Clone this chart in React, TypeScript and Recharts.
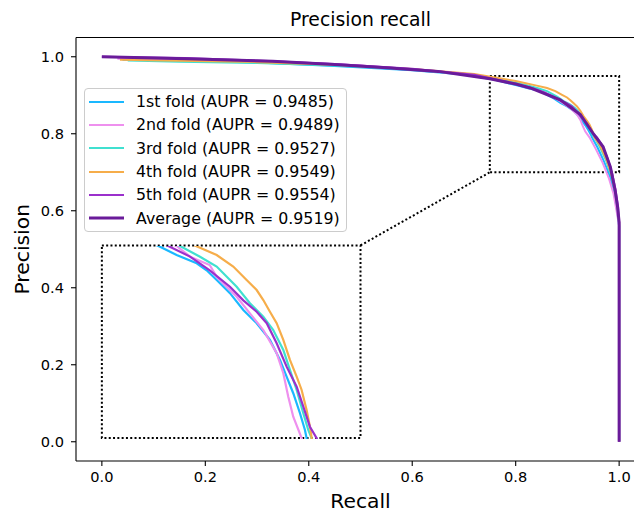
import React from "react";
import {
  LineChart,
  Line,
  XAxis,
  YAxis,
  Legend,
  ReferenceArea,
  ReferenceLine,
} from "recharts";

const FONT = "'DejaVu Sans', sans-serif";

// recall / precision, one pair of arrays per fold
const fold1Recall = [0.04, 0.15, 0.3, 0.45, 0.6, 0.7, 0.76, 0.806, 0.822, 0.8414, 0.851, 0.8607, 0.8735, 0.8864, 0.8993, 0.9121, 0.9218, 0.9282, 0.9346, 0.9411, 0.9459, 0.9475, 0.958, 0.97, 0.982, 0.99, 0.996, 1.0, 1.0];
const fold1Precision = [0.992, 0.99, 0.985, 0.976, 0.965, 0.954, 0.94, 0.9245, 0.9187, 0.9129, 0.908, 0.9012, 0.892, 0.8802, 0.871, 0.8593, 0.8453, 0.8336, 0.822, 0.808, 0.7963, 0.7905, 0.765, 0.73, 0.69, 0.65, 0.6, 0.56, 0.0];

const fold2Recall = [0.03, 0.2, 0.35, 0.5, 0.62, 0.72, 0.78, 0.822, 0.835, 0.854, 0.8607, 0.88, 0.8928, 0.9057, 0.9186, 0.925, 0.9298, 0.9346, 0.9427, 0.955, 0.968, 0.98, 0.989, 0.995, 1.0, 1.0];
const fold2Precision = [0.995, 0.993, 0.987, 0.977, 0.965, 0.951, 0.936, 0.925, 0.9175, 0.9117, 0.9035, 0.8895, 0.8779, 0.8662, 0.85, 0.836, 0.8196, 0.8056, 0.7907, 0.76, 0.725, 0.685, 0.645, 0.6, 0.56, 0.0];

const fold3Recall = [0.05, 0.15, 0.3, 0.45, 0.6, 0.72, 0.79, 0.8253, 0.8446, 0.8607, 0.88, 0.8928, 0.9057, 0.9153, 0.925, 0.9314, 0.9379, 0.9443, 0.9491, 0.9524, 0.963, 0.975, 0.985, 0.992, 0.997, 1.0, 1.0];
const fold3Precision = [0.99, 0.987, 0.984, 0.977, 0.967, 0.952, 0.936, 0.925, 0.9175, 0.9106, 0.8965, 0.885, 0.8756, 0.8662, 0.8523, 0.8383, 0.8243, 0.808, 0.7963, 0.7905, 0.765, 0.73, 0.69, 0.65, 0.605, 0.565, 0.0];

const fold4Recall = [0.035, 0.12, 0.3, 0.45, 0.6, 0.72, 0.8, 0.8407, 0.8607, 0.8767, 0.8896, 0.8993, 0.9057, 0.9121, 0.9186, 0.925, 0.9314, 0.9379, 0.9427, 0.9475, 0.9507, 0.9524, 0.963, 0.975, 0.985, 0.992, 0.997, 1.0, 1.0];
const fold4Precision = [0.992, 0.99, 0.986, 0.979, 0.968, 0.955, 0.937, 0.925, 0.9187, 0.9106, 0.9012, 0.8942, 0.8872, 0.879, 0.871, 0.8593, 0.8453, 0.8336, 0.8243, 0.8103, 0.7986, 0.7905, 0.77, 0.735, 0.695, 0.655, 0.61, 0.57, 0.0];

const fold5Recall = [0.0, 0.16, 0.3, 0.45, 0.6, 0.72, 0.78, 0.814, 0.835, 0.854, 0.8735, 0.8864, 0.8993, 0.909, 0.9186, 0.9282, 0.9379, 0.9443, 0.9507, 0.9572, 0.967, 0.978, 0.987, 0.993, 0.998, 1.0, 1.0];
const fold5Precision = [1.0, 0.997, 0.99, 0.981, 0.969, 0.953, 0.936, 0.925, 0.9176, 0.908, 0.8965, 0.887, 0.879, 0.871, 0.857, 0.8406, 0.8266, 0.8126, 0.7986, 0.7905, 0.77, 0.735, 0.695, 0.655, 0.61, 0.57, 0.0];

const avgRecall = [0, 0.164, 0.33, 0.45, 0.557, 0.65, 0.75, 0.8, 0.828, 0.886, 0.925, 0.95, 0.969, 0.983, 0.992, 0.997, 1.0, 1.0];
const avgPrecision = [1.0, 0.995, 0.988, 0.98, 0.971, 0.962, 0.943, 0.929, 0.919, 0.888, 0.85, 0.8, 0.766, 0.714, 0.655, 0.61, 0.57, 0.0];

const seriesNames = ["1st fold", "2nd fold", "3rd fold", "4th fold", "5th fold", "Average"];
const auprValues = ["0.9485", "0.9489", "0.9527", "0.9549", "0.9554", "0.9519"];
const seriesColors = ["#1ab8ff", "#ee90ee", "#40e0d0", "#f6ad4a", "#9b30cc", "#6a1b9a"];

const axisTicks = [0, 0.2, 0.4, 0.6, 0.8, 1.0];

// zoomed region and where the inset sits (data coords of the main axes)
const zoomX = [0.75, 1.0];
const zoomY = [0.7, 0.95];
const insetBoxX = [0, 0.5];
const insetBoxY = [0.01, 0.51];
const insetLimX = [0.75, 1.0];
const insetLimY = [0.79, 0.925];

const toPoints = (r: number[], p: number[]) => r.map((x, i) => ({ r: x, p: p[i] }));

const series = [
  toPoints(fold1Recall, fold1Precision),
  toPoints(fold2Recall, fold2Precision),
  toPoints(fold3Recall, fold3Precision),
  toPoints(fold4Recall, fold4Precision),
  toPoints(fold5Recall, fold5Precision),
  toPoints(avgRecall, avgPrecision),
];

const dotted = { stroke: "#000", strokeWidth: 2, strokeDasharray: "2 2.3" };

function LegendBox() {
  return (
    <div
      style={{
        width: 263,
        boxSizing: "border-box",
        border: "1px solid #cccccc",
        borderRadius: 4,
        background: "rgba(255,255,255,0.8)",
        padding: "1px 0 1px 4px",
        fontFamily: FONT,
        fontSize: 15.8,
        color: "#000",
      }}
    >
      {seriesNames.map((name, i) => (
        <div key={name} style={{ display: "flex", alignItems: "center", height: 23.3 }}>
          <svg width={35} height={6}>
            <line x1={0} y1={3} x2={35} y2={3} stroke={seriesColors[i]} strokeWidth={i === 5 ? 3 : 2} />
          </svg>
          <span style={{ marginLeft: 12, whiteSpace: "nowrap" }}>
            {name} (AUPR = {auprValues[i]})
          </span>
        </div>
      ))}
    </div>
  );
}

export default function App() {
  const tickStyle = { fontSize: 14.6, fill: "#000", fontFamily: FONT };

  return (
    <div style={{ position: "fixed", left: 0, top: 0, width: 634, height: 513, overflow: "hidden", background: "#fff" }}>
      <div
        style={{
          position: "absolute",
          left: 0,
          top: 8.5,
          width: 721,
          textAlign: "center",
          fontFamily: FONT,
          fontSize: 18.8,
          lineHeight: "22px",
          color: "#000",
          whiteSpace: "nowrap",
        }}
      >
        Precision recall
      </div>
      <LineChart width={660} height={513} margin={{ top: 37.5, right: 15, bottom: 0, left: 0 }}>
        <XAxis
          dataKey="r"
          type="number"
          domain={[-0.05, 1.05]}
          ticks={axisTicks}
          tickFormatter={(v: number) => v.toFixed(1)}
          height={52}
          tickSize={5}
          tickMargin={6}
          tick={tickStyle}
          axisLine={{ stroke: "#000", strokeWidth: 1.1 }}
          tickLine={{ stroke: "#000", strokeWidth: 1.1 }}
          label={{ value: "Recall", position: "insideBottom", offset: 5, fontSize: 20.3, fill: "#000", fontFamily: FONT, style: { fontSize: 20.3, fill: "#000", fontFamily: FONT } }}
        />
        <YAxis
          dataKey="p"
          type="number"
          domain={[-0.05, 1.05]}
          ticks={axisTicks}
          tickFormatter={(v: number) => v.toFixed(1)}
          width={76}
          tickSize={5}
          tickMargin={7}
          tick={tickStyle}
          axisLine={{ stroke: "#000", strokeWidth: 1.1 }}
          tickLine={{ stroke: "#000", strokeWidth: 1.1 }}
          label={{ value: "Precision", angle: -90, position: "insideLeft", offset: 22, fontSize: 20.3, fill: "#000", fontFamily: FONT, style: { textAnchor: "middle", fontSize: 20.3, fill: "#000", fontFamily: FONT } }}
        />
        <ReferenceLine y={1.05} stroke="#000" strokeWidth={1.1} />
        <ReferenceArea x1={zoomX[0]} x2={zoomX[1]} y1={zoomY[0]} y2={zoomY[1]} fill="none" {...dotted} ifOverflow="visible" />
        <ReferenceArea x1={insetBoxX[0]} x2={insetBoxX[1]} y1={insetBoxY[0]} y2={insetBoxY[1]} fill="none" {...dotted} ifOverflow="visible" />
        <ReferenceLine
          segment={[
            { x: insetBoxX[1], y: insetBoxY[1] },
            { x: zoomX[0], y: zoomY[0] },
          ]}
          {...dotted}
          ifOverflow="visible"
        />
        {series.map((d, i) => (
          <Line
            key={seriesNames[i]}
            data={d}
            dataKey="p"
            type="linear"
            stroke={seriesColors[i]}
            strokeWidth={i === 5 ? 3 : 2}
            dot={false}
            activeDot={false}
            isAnimationActive={false}
          />
        ))}
        <Legend
          layout="vertical"
          align="center"
          verticalAlign="middle"
          content={() => <LegendBox />}
          wrapperStyle={{ left: 84, top: 88, width: 263 }}
        />
      </LineChart>

      <div style={{ position: "absolute", left: 102, top: 246 }}>
        <LineChart width={259} height={193} margin={{ top: 0, right: 0, bottom: 0, left: 0 }}>
          <XAxis dataKey="r" type="number" domain={insetLimX} allowDataOverflow hide height={0} />
          <YAxis dataKey="p" type="number" domain={insetLimY} allowDataOverflow hide width={0} />
          {series.slice(0, 5).map((d, i) => (
            <Line
              key={seriesNames[i]}
              data={d}
              dataKey="p"
              type="linear"
              stroke={seriesColors[i]}
              strokeWidth={2.2}
              dot={false}
              activeDot={false}
              isAnimationActive={false}
            />
          ))}
        </LineChart>
      </div>
    </div>
  );
}
